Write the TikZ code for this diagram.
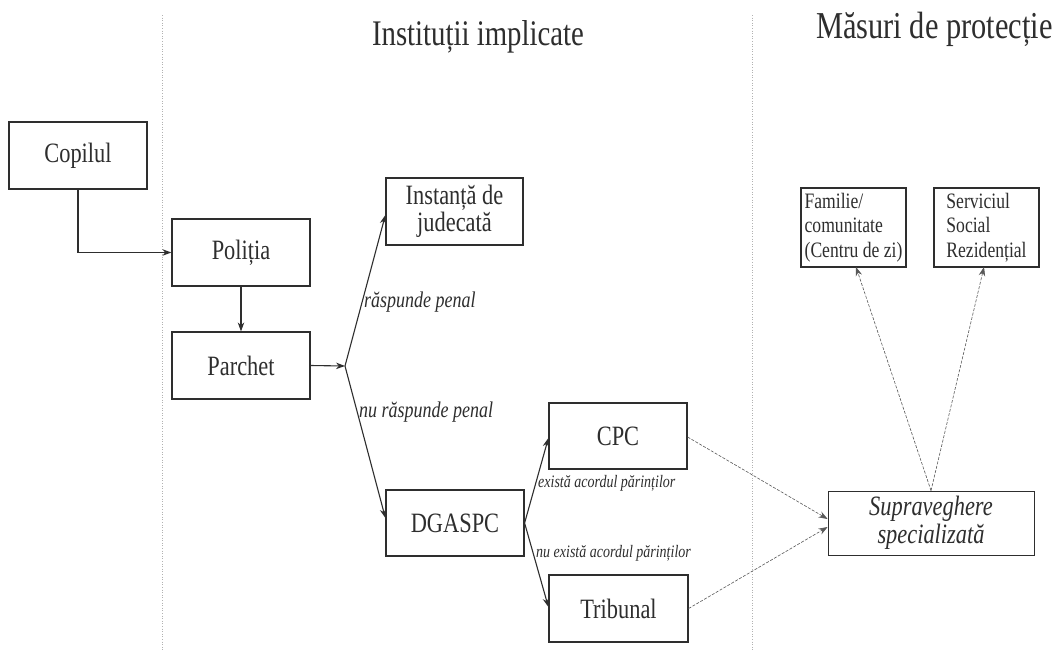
\documentclass[tikz,border=0pt]{standalone}
\usepackage{fontspec}
\setmainfont{Liberation Serif}[FakeStretch=0.8]
\usetikzlibrary{arrows.meta}
\definecolor{ink}{HTML}{2E2E2E}
\begin{document}
\begin{tikzpicture}[x=1pt,y=-1pt,
  box/.style={draw=ink,line width=1.2pt,inner sep=0pt,align=center,text=ink,font=\fontsize{28}{27}\selectfont},
  smallbox/.style={draw=ink,line width=1.2pt,inner sep=0pt,align=left,text=ink,font=\fontsize{22}{24.5}\selectfont},
  arr/.style={draw=ink,line width=1.1pt,-{Stealth[length=9pt,width=6.5pt]}},
  darr/.style={draw=ink!80,line width=0.6pt,dash pattern=on 3pt off 1.5pt,-{Stealth[length=9pt,width=6.5pt]}},
  elabel/.style={anchor=west,inner sep=0pt,text=ink,font=\fontsize{22.5}{24}\selectfont\itshape},
  slabel/.style={anchor=west,inner sep=0pt,text=ink,font=\fontsize{17.5}{20}\selectfont\itshape},
  sep/.style={draw=gray!60,line width=0.6pt,dotted}]
\useasboundingbox (0,0) rectangle (1059,651);
\fill[white] (0,0) rectangle (1059,651);
% separators
\coordinate (s1t) at (162,15); \coordinate (s1b) at (162,651);
\coordinate (s2t) at (752,15); \coordinate (s2b) at (752,651);
\draw[sep] (s1t) -- (s1b);
\draw[sep] (s2t) -- (s2b);
% titles
\node[text=ink,font=\fontsize{36}{40}\selectfont,anchor=base,inner sep=0pt] (t1) at (478,45) {Instituții implicate};
\node[text=ink,font=\fontsize{38}{40}\selectfont,anchor=base west,inner sep=0pt] (t2) at (816,38) {Măsuri de protecție};
% boxes
\node[box,minimum width=138,minimum height=67] (cop) at (78,155.5) {Copilul};
\node[box,minimum width=138,minimum height=67] (pol) at (241,252.5) {Poliția};
\node[box,minimum width=138,minimum height=67] (par) at (241,365.5) {Parchet};
\node[box,minimum width=137,minimum height=67] (ins) at (454.5,211.5) {Instanță de\\judecată};
\node[box,minimum width=138,minimum height=66] (dga) at (455,523) {DGASPC};
\node[box,minimum width=138,minimum height=66] (cpc) at (618,436) {CPC};
\node[box,minimum width=139,minimum height=67] (tri) at (618.5,608.5) {Tribunal};
\node[box,line width=0.8pt,minimum width=206,minimum height=64,font=\fontsize{28}{28}\selectfont\itshape] (sup) at (931,523) {Supraveghere\\specializată};
\node[smallbox,minimum width=105,minimum height=79] (fam) at (853.5,227.5) {Familie/\\comunitate\\(Centru de zi)};
\node[smallbox,minimum width=105,minimum height=79] (ser) at (986.5,227.5) {Serviciul\\Social\\Rezidențial};
% connectors
\coordinate (c1) at (cop.south |- pol.west);
\draw[arr] (cop.south) -- (c1) -- (pol.west);
\draw[arr] (pol.south) -- (par.north);
\coordinate (b1) at (345,366);
\draw[arr] (par.east) -- (b1);
\coordinate (insw) at (ins.west |- 0,215);
\draw[arr] (b1) -- (insw);
\coordinate (dgaw) at (dga.west |- 0,518);
\draw[arr] (b1) -- (dgaw);
\coordinate (cpcw) at (cpc.west |- 0,438);
\coordinate (triw) at (tri.west |- 0,607);
\draw[arr] (dga.east) -- (cpcw);
\draw[arr] (dga.east) -- (triw);
\coordinate (cpce) at (cpc.east |- 0,437);
\coordinate (supw1) at (sup.west |- 0,519);
\coordinate (supw2) at (sup.west |- 0,527);
\draw[darr] (cpce) -- (supw1);
\draw[darr] (tri.east) -- (supw2);
\coordinate (famb) at (856,267);
\coordinate (serb) at (984,267);
\draw[darr] (sup.north) -- (famb);
\draw[darr] (sup.north) -- (serb);
% edge labels
\node[elabel] (l1) at (364,302) {răspunde penal};
\node[elabel] (l2) at (359,412) {nu răspunde penal};
\node[slabel] (l3) at (538,483) {există acordul părinților};
\node[slabel] (l4) at (536,553) {nu există acordul părinților};
\end{tikzpicture}
\end{document}
